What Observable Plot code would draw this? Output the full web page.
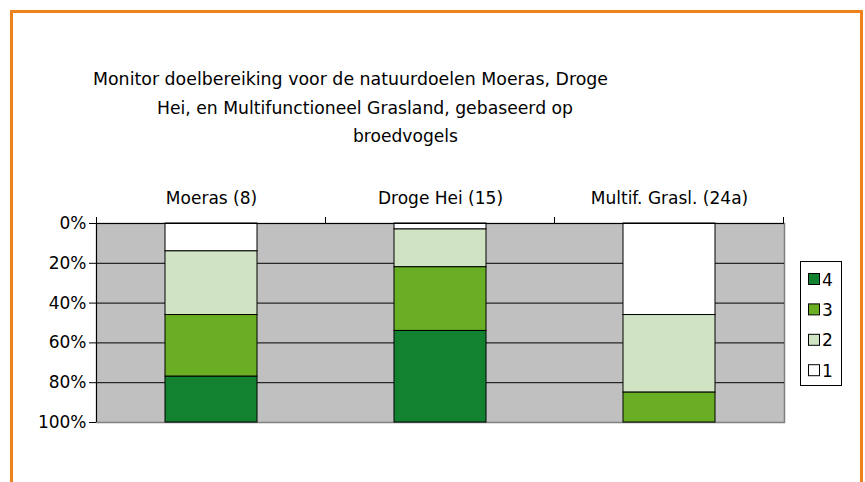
<!DOCTYPE html>
<html>
<head>
<meta charset="utf-8">
<script src="https://cdn.jsdelivr.net/npm/d3@7"></script>
<script src="https://cdn.jsdelivr.net/npm/@observablehq/plot@0.6"></script>
<style>
  html, body { margin: 0; padding: 0; background: #fff; overflow: hidden; }
  #root { position: relative; width: 865px; height: 482px; overflow: hidden; font-family: "DejaVu Sans", sans-serif; }
  #chart, #overlay { position: absolute; left: 0; top: 0; }
  #frame { position: absolute; left: 10px; top: 10px; width: 853px; height: 520px; border: 3px solid #F0821E; box-sizing: border-box; }
</style>
</head>
<body>
<div id="root">
  <div id="chart"></div>
  <svg id="overlay" width="865" height="482"></svg>
  <div id="frame"></div>
</div>
<script>
// ---- data ----
const titleLines = [
  "Monitor doelbereiking voor de natuurdoelen Moeras, Droge",
  "Hei, en Multifunctioneel Grasland, gebaseerd op",
  "broedvogels"
];
const categories = ["Moeras (8)", "Droge Hei (15)", "Multif. Grasl. (24a)"];
const series = ["1", "2", "3", "4"];
const share1 = [14, 3, 46];
const share2 = [32, 19, 39];
const share3 = [31, 32, 15];
const share4 = [23, 46, 0];
const seriesColors = ["#FFFFFF", "#D0E4C4", "#6AAF23", "#138230"];
const yTicks = [0, 20, 40, 60, 80, 100];
const gridValues = [20, 40, 60, 80];

const shares = [share1, share2, share3, share4];
const rows = [];
series.forEach((s, i) => {
  categories.forEach((c, j) => {
    if (shares[i][j] > 0) rows.push({cat: c, series: s, value: shares[i][j]});
  });
});

const W = 865, H = 482;
const plot = Plot.plot({
  width: W,
  height: H,
  marginTop: 223,
  marginBottom: 60,
  marginLeft: 96,
  marginRight: 81,
  style: {background: "transparent", fontFamily: "DejaVu Sans", fontSize: "17px", color: "black", overflow: "visible"},
  x: {domain: categories, paddingInner: 0.6, paddingOuter: 0.3, label: null, axis: null},
  y: {domain: [0, 100], reverse: true, label: null, axis: null},
  color: {domain: series, range: seriesColors},
  marks: [
    Plot.frame({fill: "#C0C0C0", stroke: "#808080", strokeWidth: 1.5}),
    Plot.ruleY(gridValues, {stroke: "black", strokeWidth: 1}),
    Plot.barY(rows, {x: "cat", y: "value", fill: "series", stroke: "black", strokeWidth: 1, order: series}),
    Plot.ruleY([0], {stroke: "black", strokeWidth: 1}),
    Plot.axisY({anchor: "left", ticks: yTicks, tickFormat: d => d + "%", tickSize: 7, tickPadding: 3, fontSize: 17, label: null}),
    Plot.axisX({anchor: "top", tickSize: 0, tickPadding: 20, fontSize: 17, label: null})
  ]
});
document.getElementById("chart").appendChild(plot);

// axis lines and band-boundary ticks from the plot's own scales
const xs = plot.scale("x"), ys = plot.scale("y");
const svg = d3.select(plot);
const y0 = ys.apply(0), y100 = ys.apply(100);
const gap = (xs.step - xs.bandwidth) / 2;
const bounds = categories.map(c => xs.apply(c) - gap);
bounds.push(xs.apply(categories[categories.length - 1]) + xs.bandwidth + gap);
svg.append("line")
  .attr("x1", bounds[0]).attr("x2", bounds[0])
  .attr("y1", y0).attr("y2", y100)
  .attr("stroke", "black");
svg.append("g").selectAll("line").data(bounds).join("line")
  .attr("x1", d => d).attr("x2", d => d)
  .attr("y1", y0 - 6).attr("y2", y0)
  .attr("stroke", "black");

// title and legend
const ov = d3.select("#overlay");
const titleX = [93, 157, 353];
const titleY = [85, 114, 142];
const titleLen = [515, 416, 105];
ov.append("g").selectAll("text").data(titleLines).join("text")
  .attr("x", (d, i) => titleX[i])
  .attr("y", (d, i) => titleY[i])
  .attr("textLength", (d, i) => titleLen[i])
  .attr("lengthAdjust", "spacingAndGlyphs")
  .attr("font-family", "DejaVu Sans")
  .attr("font-size", 17)
  .attr("fill", "black")
  .text(d => d);

const leg = ov.append("g");
leg.append("rect").attr("x", 800.5).attr("y", 261.5).attr("width", 41).attr("height", 124)
  .attr("fill", "white").attr("stroke", "black");
const legItems = series.slice().reverse();
leg.selectAll("g.item").data(legItems).join("g").attr("class", "item")
  .attr("transform", (d, i) => `translate(0, ${279 + i * 30.4})`)
  .each(function(d) {
    const g = d3.select(this);
    g.append("rect").attr("x", 808.5).attr("y", -5.5).attr("width", 11).attr("height", 11)
      .attr("fill", seriesColors[series.indexOf(d)]).attr("stroke", "black");
    g.append("text").attr("x", 822).attr("y", 6.5)
      .attr("font-family", "DejaVu Sans").attr("font-size", 17).attr("fill", "black").text(d);
  });
</script>
</body>
</html>
